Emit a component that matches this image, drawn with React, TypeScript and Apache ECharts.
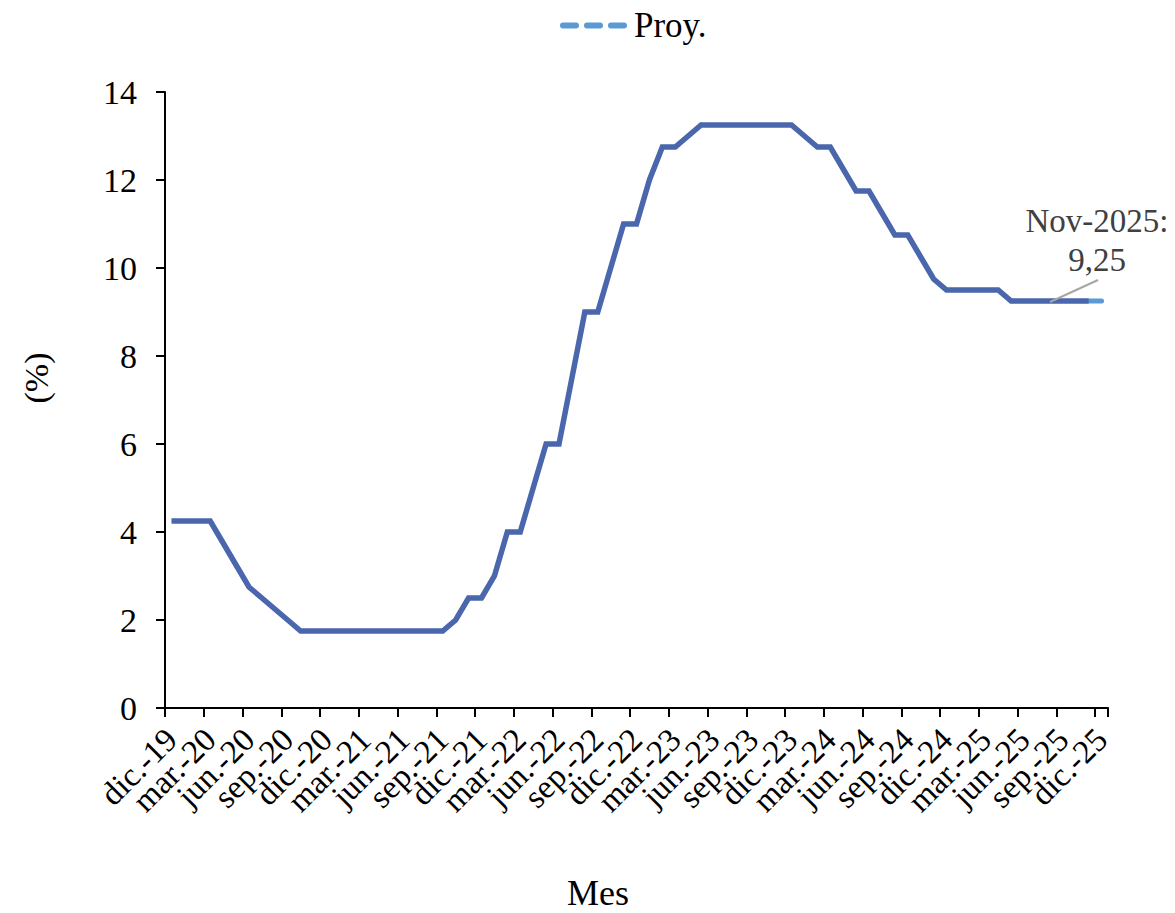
import React, { useEffect, useRef } from "react";
import * as echarts from "echarts";

const monthNames = ["ene.", "feb.", "mar.", "abr.", "may.", "jun.", "jul.", "ago.", "sep.", "oct.", "nov.", "dic."];
const categories: string[] = ["dic.-19"];
for (let y = 20; y <= 25; y++) {
  for (let m = 0; m < 12; m++) categories.push(`${monthNames[m]}-${y}`);
}

const tasaValues: (number | null)[] = [
  4.25, 4.25, 4.25, 4.25, 3.75, 3.25, 2.75, 2.5, 2.25, 2.0,
  1.75, 1.75, 1.75, 1.75, 1.75, 1.75, 1.75, 1.75, 1.75, 1.75, 1.75, 1.75,
  2.0, 2.5, 2.5, 3.0, 4.0, 4.0, 5.0, 6.0, 6.0, 7.5, 9.0, 9.0, 10.0, 11.0, 11.0, 12.0, 12.75, 12.75, 13.0,
  13.25, 13.25, 13.25, 13.25, 13.25, 13.25, 13.25, 13.25,
  13.0, 12.75, 12.75, 12.25, 11.75, 11.75, 11.25, 10.75, 10.75, 10.25, 9.75,
  9.5, 9.5, 9.5, 9.5, 9.5,
  9.25, 9.25, 9.25, 9.25, 9.25, 9.25, 9.25,
  null,
];

const proyValues: (number | null)[] = [
  ...Array(71).fill(null),
  9.25, 9.25,
];

const yTicks = { min: 0, max: 14, interval: 2 };
const FONT = "Liberation Serif";
const DASH_ICON =
  "path://M3,0h13a3,3 0 0 1 0,6h-13a3,3 0 0 1 0,-6z M27,0h13a3,3 0 0 1 0,6h-13a3,3 0 0 1 0,-6z M51,0h13a3,3 0 0 1 0,6h-13a3,3 0 0 1 0,-6z";

const labelStyle = {
  rotate: 45,
  margin: 26,
  fontFamily: FONT,
  fontSize: 33,
  color: "#000",
};

export default function App() {
  const ref = useRef<HTMLDivElement>(null);
  useEffect(() => {
    if (!ref.current) return;
    const chart = echarts.init(ref.current, null, { renderer: "svg" });
    chart.setOption({
      animation: false,
      backgroundColor: "#ffffff",
      textStyle: { fontFamily: FONT },
      grid: { left: 165, right: 67, top: 92, bottom: 205, containLabel: false },
      legend: {
        data: [{ name: "Proy.", icon: DASH_ICON }],
        left: 555,
        top: 3,
        itemWidth: 67,
        itemHeight: 6,
        itemGap: 10,
        textStyle: { fontFamily: FONT, fontSize: 35, color: "#000", padding: [0, 0, 0, 2] },
      },
      xAxis: [
        {
          type: "category",
          data: categories,
          boundaryGap: true,
          axisLine: { show: true, lineStyle: { color: "#000", width: 2 } },
          axisTick: { show: true, interval: 2, length: 9, lineStyle: { color: "#000", width: 2 } },
          axisLabel: {
            ...labelStyle,
            interval: (i: number) => i % 6 === 0,
            showMinLabel: true,
            showMaxLabel: true,
          },
          splitLine: { show: false },
        },
        {
          type: "category",
          data: categories,
          boundaryGap: true,
          position: "bottom",
          axisLine: { show: false },
          axisTick: { show: false },
          axisLabel: {
            ...labelStyle,
            interval: (i: number) => i % 6 === 3,
          },
          splitLine: { show: false },
        },
      ],
      yAxis: {
        type: "value",
        min: yTicks.min,
        max: yTicks.max,
        interval: yTicks.interval,
        axisLine: { show: true, lineStyle: { color: "#000", width: 2 } },
        axisTick: { show: true, length: 9, lineStyle: { color: "#000", width: 2 } },
        axisLabel: { margin: 28, fontFamily: FONT, fontSize: 34, color: "#000" },
        splitLine: { show: false },
      },
      series: [
        {
          name: "Proy.",
          type: "line",
          data: proyValues,
          symbol: "none",
          z: 1,
          lineStyle: { color: "#5B9BD5", width: 5, type: [14, 8], cap: "round" },
          itemStyle: { color: "#5B9BD5" },
        },
        {
          name: "Tasa",
          type: "line",
          data: tasaValues,
          symbol: "none",
          z: 3,
          lineStyle: { color: "#4A66AC", width: 5.5, cap: "butt", join: "miter" },
          itemStyle: { color: "#4A66AC" },
        },
      ],
      graphic: [
        {
          type: "line",
          shape: { x1: 1050, y1: 302, x2: 1098, y2: 280 },
          style: { stroke: "#A6A6A6", lineWidth: 2 },
          z: 10,
        },
        {
          type: "text",
          x: 1097,
          y: 221,
          style: {
            text: "Nov-2025:",
            fontFamily: FONT,
            fontSize: 33,
            fill: "#404040",
            align: "center",
            verticalAlign: "middle",
          },
        },
        {
          type: "text",
          x: 1097,
          y: 260,
          style: {
            text: "9,25",
            fontFamily: FONT,
            fontSize: 33,
            fill: "#404040",
            align: "center",
            verticalAlign: "middle",
          },
        },
        {
          type: "text",
          x: 36,
          y: 378,
          rotation: Math.PI / 2,
          style: {
            text: "(%)",
            fontFamily: FONT,
            fontSize: 34,
            fill: "#000",
            align: "center",
            verticalAlign: "middle",
          },
        },
        {
          type: "text",
          x: 598,
          y: 893,
          style: {
            text: "Mes",
            fontFamily: FONT,
            fontSize: 36,
            fill: "#000",
            align: "center",
            verticalAlign: "middle",
          },
        },
      ],
    });
    return () => chart.dispose();
  }, []);
  return (
    <div
      ref={ref}
      style={{ position: "absolute", left: 0, top: 0, width: 1175, height: 913 }}
    />
  );
}
